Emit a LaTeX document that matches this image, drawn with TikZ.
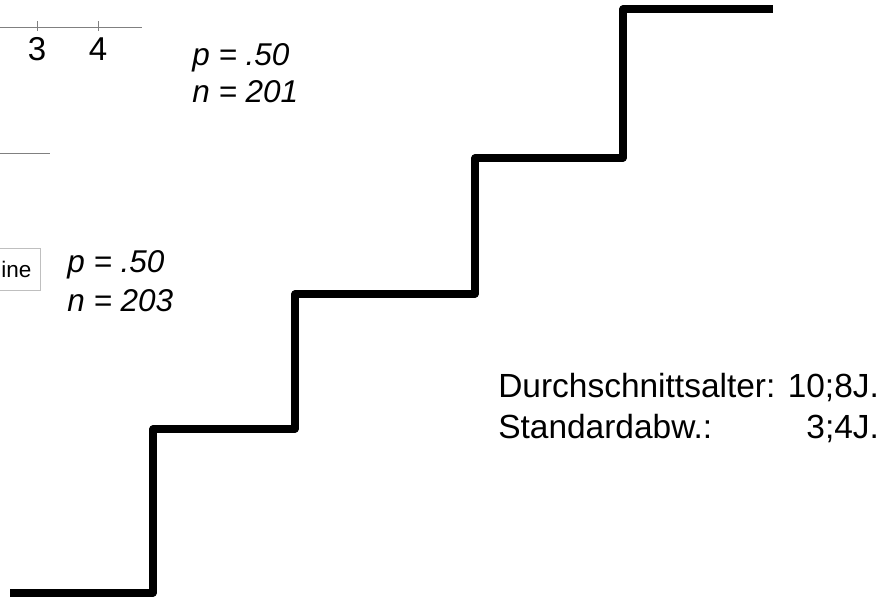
\documentclass[tikz,border=0pt]{standalone}
\usepackage{fontspec}
\setmainfont{Liberation Sans}
\usetikzlibrary{positioning}

\tikzset{
    stair/.style={line width=5pt, line join=round},
    axisline/.style={draw=gray, line width=0.7pt},
    stat/.style={inner sep=0pt, font=\fontsize{22.4}{26}\selectfont\itshape},
    info/.style={inner sep=0pt, font=\fontsize{23.8}{28}\selectfont}
}

\begin{document}
\begin{tikzpicture}[x=0.025cm, y=-0.025cm]
    \useasboundingbox (0,0) rectangle (894,606);

    % axis remnant top left
    \draw[axisline] (0,27) -- (142,27);
    \foreach \x/\lab in {37/3,98/4} {
        \draw[axisline] (\x,21) -- (\x,31);
        \node[inner sep=0pt, anchor=base, font=\fontsize{23.5}{26}\selectfont] (tick\lab) at (\x,60) {\lab};
    }
    \draw[axisline] (0,153) -- (50,153);

    % button remnant
    \node[draw=gray!50, line width=0.5pt, anchor=east, minimum height=42*0.025cm, text width=30pt, align=right, inner xsep=6.5pt, inner ysep=2.5pt, font=\fontsize{16}{18}\selectfont] (btn) at (41,269) {ine};

    % statistics
    \node[stat, anchor=base west] (p1) at (192,65) {p = .50};
    \node[stat, anchor=base west] (n1) at (192,102) {n = 201};
    \node[stat, anchor=base west] (p2) at (67,272) {p = .50};
    \node[stat, anchor=base west] (n2) at (67,311) {n = 203};

    % staircase
    \draw[stair] (10,593) -- (153,593) -- (153,429) -- (295,429) -- (295,294)
        -- (475,294) -- (475,158) -- (623,158) -- (623,9) -- (773,9);

    % age info
    \node[info, anchor=base west] (avg) at (498,397) {Durchschnittsalter: 10;8J.};
    \node[info, anchor=base west] (sd) at (498,438) {Standardabw.:};
    \node[info, anchor=base east] (sdval) at (avg.east |- sd.base) {3;4J.};
\end{tikzpicture}
\end{document}
